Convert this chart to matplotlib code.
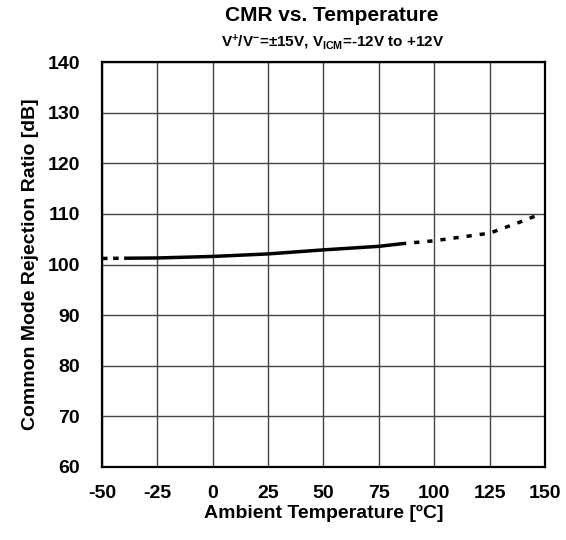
import matplotlib
matplotlib.use("Agg")
import matplotlib.pyplot as plt
import numpy as np

plt.rcParams['font.family'] = ['Liberation Sans', 'DejaVu Sans']
plt.rcParams['font.weight'] = 'bold'
plt.rcParams['mathtext.fontset'] = 'custom'
plt.rcParams['mathtext.rm'] = 'Liberation Sans:bold'
plt.rcParams['mathtext.bf'] = 'Liberation Sans:bold'
plt.rcParams['mathtext.it'] = 'Liberation Sans:bold'

# Data
temp_low = [-50, -40]
cmr_low = [101.2, 101.25]
temp_mid = [-40, -25, 0, 25, 50, 75, 85]
cmr_mid = [101.25, 101.3, 101.6, 102.1, 102.9, 103.6, 104.1]
temp_high = [85, 100, 125, 140, 148]
cmr_high = [104.1, 104.7, 106.2, 108.6, 110.0]

xticks = [-50, -25, 0, 25, 50, 75, 100, 125, 150]
yticks = [60, 70, 80, 90, 100, 110, 120, 130, 140]

fig = plt.figure(figsize=(5.66, 5.40), dpi=100)
ax = fig.add_axes([0.1802, 0.1352, 0.7827, 0.7498])

ax.plot(temp_mid, cmr_mid, color='black', lw=2.5, solid_capstyle='butt')
ax.plot(temp_low, cmr_low, color='black', lw=2.5, linestyle=(0, (1.6, 1.6)), dash_capstyle='butt')
ax.plot(temp_high, cmr_high, color='black', lw=2.5, linestyle=(0, (1.5, 2.3)), dash_capstyle='butt')

ax.set_xlim(-50, 150)
ax.set_ylim(60, 140)
ax.set_xticks(xticks)
ax.set_yticks(yticks)
ax.set_xticklabels([str(v) for v in xticks], fontsize=14, fontweight='bold')
ax.set_yticklabels([str(v) for v in yticks], fontsize=14, fontweight='bold')
ax.tick_params(axis='both', length=0)
ax.tick_params(axis='x', pad=13)
ax.tick_params(axis='y', pad=16)
ax.grid(True, color='#444444', lw=1.0)
for s in ax.spines.values():
    s.set_linewidth(1.6)
    s.set_color('black')

ax.set_xlabel('Ambient Temperature [ºC]', fontsize=14, fontweight='bold', labelpad=2)
ax.set_ylabel('Common Mode Rejection Ratio [dB]', fontsize=14, fontweight='bold', labelpad=6)

fig.text(0.5868, 0.972, 'CMR vs. Temperature', ha='center', va='center', fontsize=15, fontweight='bold')
fig.text(0.5868, 0.922, r'V$^{+}$/V$^{-}$=±15V, V$_{\mathrm{ICM}}$=-12V to +12V', ha='center', va='center', fontsize=11, fontweight='bold')

fig.savefig('out.png', dpi=100)
